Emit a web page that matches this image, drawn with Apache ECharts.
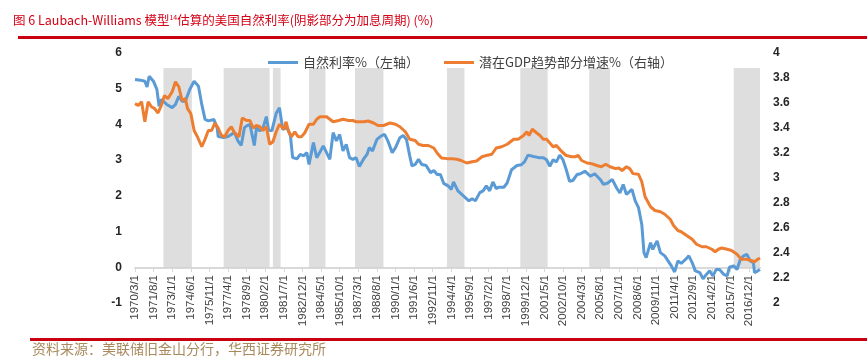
<!DOCTYPE html>
<html><head><meta charset="utf-8">
<script src="https://cdn.jsdelivr.net/npm/echarts@6.0.0/dist/echarts.min.js"></script>
<style>html,body{margin:0;padding:0;background:#fff}#c{width:867px;height:358px}</style>
</head><body><div id="c"></div><script>
// Monthly category axis 1970/3 .. 2017/10
const categories = [];
(function(){ let y = 1970, m = 3; while (!(y === 2017 && m === 11)) { categories.push(y + '/' + m + '/1'); m++; if (m > 12) { m = 1; y++; } } })();

// 自然利率 (left axis)
const naturalDates = ['1970/3/1','1970/8/1','1970/12/1','1971/2/1','1971/4/1','1971/8/1','1971/11/1','1972/1/1','1972/3/1','1972/8/1',
'1973/1/1','1973/4/1','1973/7/1','1973/10/1','1974/1/1','1974/5/1','1974/9/1','1975/1/1','1975/4/1','1975/7/1',
'1975/10/1','1976/3/1','1976/6/1','1976/7/1','1976/12/1','1977/4/1','1977/7/1','1977/10/1','1978/1/1','1978/4/1',
'1978/7/1','1978/9/1','1978/12/1','1979/4/1','1979/6/1','1979/9/1','1979/12/1','1980/3/1','1980/5/1','1980/8/1',
'1980/12/1','1981/3/1','1981/6/1','1981/10/1','1982/1/1','1982/3/1','1982/7/1','1982/10/1','1983/1/1','1983/4/1',
'1983/6/1','1983/10/1','1984/1/1','1984/4/1','1984/7/1','1984/10/1','1985/1/1','1985/4/1','1985/7/1','1985/10/1',
'1986/1/1','1986/4/1','1986/7/1','1986/10/1','1987/1/1','1987/4/1','1987/8/1','1987/11/1','1988/1/1','1988/4/1',
'1988/8/1','1988/12/1','1989/3/1','1989/6/1','1989/10/1','1990/1/1','1990/5/1','1990/8/1','1990/11/1','1991/2/1',
'1991/4/1','1991/7/1','1991/10/1','1992/1/1','1992/5/1','1992/9/1','1992/12/1','1993/3/1','1993/6/1','1993/9/1',
'1994/1/1','1994/4/1','1994/6/1','1994/10/1','1995/3/1','1995/8/1','1995/11/1','1996/2/1','1996/6/1','1996/9/1',
'1996/12/1','1997/3/1','1997/6/1','1997/9/1','1997/11/1','1998/4/1','1998/7/1','1998/11/1','1999/4/1','1999/8/1',
'1999/11/1','2000/2/1','2000/7/1','2000/12/1','2001/4/1','2001/7/1','2001/10/1','2002/1/1','2002/4/1','2002/7/1',
'2002/10/1','2003/1/1','2003/4/1','2003/7/1','2003/11/1','2004/2/1','2004/6/1','2004/11/1','2005/3/1','2005/8/1',
'2005/11/1','2006/3/1','2006/7/1','2006/11/1','2007/2/1','2007/5/1','2007/8/1','2008/1/1','2008/4/1','2008/7/1',
'2008/10/1','2008/12/1','2009/2/1','2009/6/1','2009/8/1','2009/12/1','2010/3/1','2010/7/1','2010/10/1','2011/1/1',
'2011/4/1','2011/7/1','2011/10/1','2012/2/1','2012/5/1','2012/8/1','2012/11/1','2013/3/1','2013/6/1','2013/9/1',
'2013/12/1','2014/3/1','2014/6/1','2014/9/1','2015/1/1','2015/4/1','2015/6/1','2015/10/1','2016/1/1','2016/4/1',
'2016/7/1','2016/10/1','2017/1/1','2017/4/1','2017/5/1','2017/8/1','2017/10/1'];
const naturalRate = [5.26,5.24,5.21,5.05,5.35,5.20,4.98,4.51,4.70,4.56,
4.47,4.56,4.79,4.65,4.65,4.98,5.21,5.07,4.56,4.14,
4.10,4.14,3.91,3.66,3.63,3.66,3.72,3.77,3.54,3.41,
3.91,3.96,4.00,3.41,3.91,3.82,3.91,4.22,3.84,3.82,
4.31,4.47,3.86,3.91,3.68,3.07,3.04,3.16,3.12,3.21,
2.88,3.49,3.07,3.23,3.40,3.21,3.02,3.77,3.54,3.72,
3.26,3.44,3.07,3.02,3.07,2.82,3.04,3.16,3.35,3.26,
3.58,3.68,3.72,3.54,3.21,3.35,3.63,3.69,3.58,3.12,
2.84,2.88,3.02,2.88,2.85,2.65,2.71,2.60,2.60,2.35,
2.28,2.18,2.39,2.14,2.00,1.86,1.92,1.86,2.09,2.14,
2.28,2.14,2.39,2.20,2.24,2.24,2.36,2.73,2.85,2.87,
2.96,3.14,3.10,3.07,3.07,3.01,2.83,3.01,2.95,3.14,
3.01,2.73,2.41,2.43,2.60,2.62,2.69,2.55,2.62,2.46,
2.32,2.36,2.46,2.22,2.08,2.32,2.04,2.18,1.86,1.67,
1.20,0.41,0.27,0.69,0.50,0.74,0.41,0.32,0.18,0.04,
-0.13,0.18,0.11,0.22,0.32,0.13,-0.10,-0.15,-0.32,-0.20,
-0.10,-0.24,-0.06,-0.06,-0.20,-0.24,0.00,0.04,-0.06,0.22,
0.32,0.36,0.18,0.13,-0.15,-0.10,-0.06];

// 潜在GDP趋势部分增速 (right axis)
const gdpDates = ['1970/3/1','1970/6/1','1970/9/1','1970/12/1','1971/3/1','1971/6/1','1971/9/1','1971/12/1','1972/3/1','1972/6/1',
'1972/9/1','1973/1/1','1973/4/1','1973/7/1','1973/10/1','1974/1/1','1974/3/1','1974/6/1','1974/9/1','1974/12/1',
'1975/4/1','1975/7/1','1975/10/1','1976/1/1','1976/4/1','1976/7/1','1976/10/1','1977/1/1','1977/4/1','1977/7/1',
'1977/10/1','1978/2/1','1978/5/1','1978/9/1','1978/12/1','1979/3/1','1979/6/1','1979/9/1','1979/12/1','1980/3/1',
'1980/6/1','1980/9/1','1980/12/1','1981/3/1','1981/7/1','1981/9/1','1981/11/1','1982/2/1','1982/5/1','1982/8/1',
'1982/11/1','1983/2/1','1983/6/1','1983/10/1','1984/1/1','1984/4/1','1984/10/1','1985/1/1','1985/4/1','1985/9/1',
'1986/1/1','1986/6/1','1986/10/1','1987/1/1','1987/8/1','1987/12/1','1988/5/1','1988/9/1','1989/2/1','1989/8/1',
'1990/1/1','1990/5/1','1990/10/1','1991/2/1','1991/7/1','1991/10/1','1992/2/1','1992/7/1','1992/12/1','1993/3/1',
'1993/7/1','1993/12/1','1994/4/1','1994/9/1','1995/1/1','1995/6/1','1995/11/1','1996/3/1','1996/8/1','1996/12/1',
'1997/5/1','1997/9/1','1998/2/1','1998/7/1','1998/10/1','1999/1/1','1999/5/1','1999/10/1','2000/1/1','2000/3/1',
'2000/6/1','2000/10/1','2001/1/1','2001/4/1','2001/7/1','2001/10/1','2002/1/1','2002/4/1','2002/9/1','2003/1/1',
'2003/6/1','2003/9/1','2003/12/1','2004/3/1','2004/8/1','2004/12/1','2005/5/1','2005/9/1','2006/1/1','2006/5/1',
'2006/10/1','2007/1/1','2007/4/1','2007/8/1','2007/11/1','2008/2/1','2008/7/1','2008/10/1','2009/1/1','2009/6/1',
'2009/10/1','2010/3/1','2010/7/1','2010/12/1','2011/3/1','2011/7/1','2011/10/1','2012/3/1','2012/8/1','2012/12/1',
'2013/5/1','2013/9/1','2014/2/1','2014/5/1','2014/8/1','2014/11/1','2015/4/1','2015/8/1','2016/1/1','2016/5/1',
'2016/10/1','2017/2/1','2017/5/1','2017/8/1','2017/10/1'];
const gdpGrowth = [3.595,3.58,3.61,3.45,3.61,3.57,3.555,3.52,3.58,3.66,
3.635,3.69,3.77,3.73,3.62,3.635,3.555,3.515,3.38,3.33,
3.25,3.31,3.38,3.38,3.44,3.40,3.34,3.33,3.38,3.41,
3.36,3.33,3.48,3.46,3.46,3.40,3.42,3.41,3.38,3.41,
3.27,3.29,3.37,3.43,3.39,3.45,3.38,3.33,3.37,3.33,
3.33,3.36,3.43,3.43,3.47,3.49,3.49,3.47,3.45,3.46,
3.47,3.46,3.46,3.45,3.45,3.456,3.44,3.42,3.42,3.44,
3.43,3.41,3.37,3.31,3.30,3.27,3.26,3.26,3.24,3.20,
3.16,3.155,3.155,3.15,3.14,3.12,3.13,3.136,3.17,3.18,
3.19,3.24,3.25,3.27,3.29,3.31,3.31,3.34,3.37,3.34,
3.39,3.36,3.34,3.31,3.31,3.28,3.25,3.26,3.21,3.18,
3.17,3.17,3.18,3.14,3.12,3.115,3.10,3.09,3.11,3.09,
3.075,3.08,3.06,3.09,3.075,3.035,3.03,2.97,2.85,2.77,
2.74,2.73,2.71,2.67,2.62,2.58,2.57,2.54,2.51,2.47,
2.45,2.45,2.43,2.41,2.43,2.44,2.43,2.42,2.39,2.35,
2.35,2.34,2.33,2.35,2.36];

// 加息周期 (shaded)
const hikeStart = ['1972/5/1','1976/12/1','1980/9/1','1983/6/1','1986/12/1','1993/12/1','1999/7/1','2004/10/1','2015/10/1'];
const hikeEnd   = ['1974/7/1','1980/6/1','1981/4/1','1984/9/1','1989/2/1','1995/4/1','2001/8/1','2006/5/1','2017/10/1'];
const shadeTop = 5.58;

const leftTicks = {min: -1, max: 6, interval: 1};
const rightTicks = {min: 2, max: 4, interval: 0.2};

const chart = echarts.init(document.getElementById('c'));
const red = '#D40015';
chart.setOption({
  animation: false,
  title: {
    text: '{a|图 6 Laubach-Williams 模型}{s|14}{a|估算的美国自然利率(阴影部分为加息周期) (%)}',
    left: 8, top: 9,
    textStyle: { rich: {
      a: {fontSize: 12.5, color: red, fontWeight: 'normal', fontFamily: 'Noto Sans CJK SC'},
      s: {fontSize: 7, color: red, fontWeight: 'normal', fontFamily: 'Noto Sans CJK SC', verticalAlign: 'top', padding: [0, 0, 6, 0]}
    }}
  },
  legend: {
    data: ['自然利率%（左轴）', '潜在GDP趋势部分增速%（右轴）'],
    left: 263, top: 51, itemWidth: 30, itemHeight: 3, itemGap: 25, icon: 'rect',
    textStyle: {fontSize: 13, color: '#404040', fontFamily: 'Noto Sans CJK SC'}
  },
  grid: {left: 135, right: 107, top: 53, bottom: 55, containLabel: false, outerBoundsMode: 'none'},
  xAxis: {
    type: 'category', data: categories, boundaryGap: false, offset: -35,
    axisLine: {onZero: false, lineStyle: {color: '#D9D9D9', width: 2}},
    axisTick: {interval: 16, length: 4, lineStyle: {color: '#D9D9D9'}},
    axisLabel: {interval: 16, rotate: 90, fontSize: 11.5, color: '#404040', margin: 7, fontFamily: 'Liberation Sans'}
  },
  yAxis: [
    {type: 'value', min: leftTicks.min, max: leftTicks.max, interval: leftTicks.interval,
     splitLine: {show: false}, axisLine: {show: false}, axisTick: {show: false},
     axisLabel: {fontWeight: 'bold', fontSize: 12, color: '#262626', margin: 13, fontFamily: 'Liberation Sans'}},
    {type: 'value', position: 'right', min: rightTicks.min, max: rightTicks.max, interval: rightTicks.interval,
     splitLine: {show: false}, axisLine: {show: false}, axisTick: {show: false},
     axisLabel: {fontWeight: 'bold', fontSize: 12, color: '#262626', margin: 13, fontFamily: 'Liberation Sans'}}
  ],
  series: [
    {name: '自然利率%（左轴）', type: 'line', yAxisIndex: 0, showSymbol: false, symbol: 'none', z: 2,
     lineStyle: {color: '#5B9BD5', width: 3}, itemStyle: {color: '#5B9BD5'},
     data: naturalDates.map((d, i) => [d, naturalRate[i]])},
    {name: '潜在GDP趋势部分增速%（右轴）', type: 'line', yAxisIndex: 1, showSymbol: false, symbol: 'none', z: 2,
     lineStyle: {color: '#ED7D31', width: 3}, itemStyle: {color: '#ED7D31'},
     data: gdpDates.map((d, i) => [d, gdpGrowth[i]])},
    {name: 'shade', type: 'line', yAxisIndex: 0, data: [], z: 5, silent: true,
     markArea: {silent: true, itemStyle: {color: 'rgba(172,172,172,0.4)'},
       data: hikeStart.map((s, i) => [{xAxis: s, yAxis: 0}, {xAxis: hikeEnd[i], yAxis: shadeTop}])}}
  ],
  graphic: [
    {type: 'rect', shape: {x: 18, y: 36, width: 849, height: 3}, style: {fill: '#C8000F'}, silent: true},
    {type: 'rect', shape: {x: 30, y: 338, width: 837, height: 3}, style: {fill: '#C8000F'}, silent: true},
    {type: 'text', left: 32, top: 342, style: {text: '资料来源：美联储旧金山分行，华西证券研究所', fill: '#A88A5C', fontSize: 14, fontFamily: 'Noto Sans CJK SC'}, silent: true}
  ]
});
</script></body></html>
